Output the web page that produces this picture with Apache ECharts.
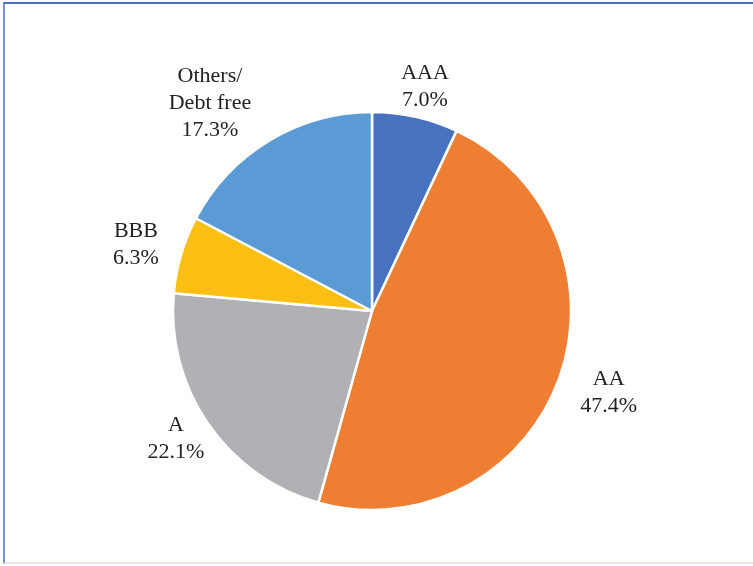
<!DOCTYPE html>
<html>
<head>
<meta charset="utf-8">
<script src="https://cdn.jsdelivr.net/npm/echarts@6/dist/echarts.min.js"></script>
<style>
html,body{margin:0;padding:0;background:#fff;}
#frame{position:absolute;left:3px;top:2px;width:760px;height:562px;border-left:2px solid #7393CF;border-top:2px solid #4472C4;border-bottom:2px solid #E4E4EE;box-sizing:border-box;}
#chart{position:absolute;left:0;top:0;width:753px;height:566px;}
</style>
</head>
<body>
<div id="frame"></div>
<div id="chart"></div>
<script>
const categories = ['AAA', 'AA', 'A', 'BBB', 'Others/\nDebt free'];
const values = [7.0, 47.4, 22.1, 6.3, 17.3];
const colors = ['#4672C0', '#EE7E31', '#B0B1B4', '#FBBE13', '#5B9BD5'];
// label nudges to place text like the reference: horizontal [left,right] padding, vertical [top,bottom] spacer heights
const labelPadH = [[0,0],[18,0],[8,0],[0,6],[0,73]];
const labelSpacer = [[26,0],[0,6],[0,20],[6,0],[0,0]];

const chart = echarts.init(document.getElementById('chart'), null, {renderer:'canvas'});
const pieData = categories.map((c, i) => ({name: c, value: values[i], itemStyle: {color: colors[i]}}));
const baseText = {fontFamily: 'Liberation Serif', fontSize: 22, lineHeight: 27, color: '#222222', align: 'center'};
const labelData = categories.map((c, i) => {
  const [top, bot] = labelSpacer[i];
  const lines = (c + '\n' + values[i].toFixed(1) + '%').split('\n').map(l => '{t|' + l + '}');
  if (top) lines.unshift('{a| }');
  if (bot) lines.push('{b| }');
  return {
    name: c, value: values[i],
    label: {
      padding: [0, labelPadH[i][1], 0, labelPadH[i][0]],
      formatter: lines.join('\n'),
      rich: {
        t: baseText,
        a: {fontSize: 1, lineHeight: top || 1},
        b: {fontSize: 1, lineHeight: bot || 1}
      }
    }
  };
});
chart.setOption({
  animation: false,
  backgroundColor: 'transparent',
  series: [
    {
      type: 'pie',
      center: [372, 311],
      radius: [0, 199],
      startAngle: 90,
      clockwise: true,
      data: pieData,
      label: {show: false},
      labelLine: {show: false},
      itemStyle: {borderColor: '#ffffff', borderWidth: 2.5},
      emphasis: {disabled: true}
    },
    {
      type: 'pie',
      center: [372, 311],
      radius: [0, 480],
      startAngle: 90,
      clockwise: true,
      silent: true,
      data: labelData,
      itemStyle: {color: 'rgba(0,0,0,0)', borderWidth: 0},
      labelLine: {show: false},
      emphasis: {disabled: true},
      label: Object.assign({show: true, position: 'inside'}, baseText)
    }
  ]
});
</script>
</body>
</html>
